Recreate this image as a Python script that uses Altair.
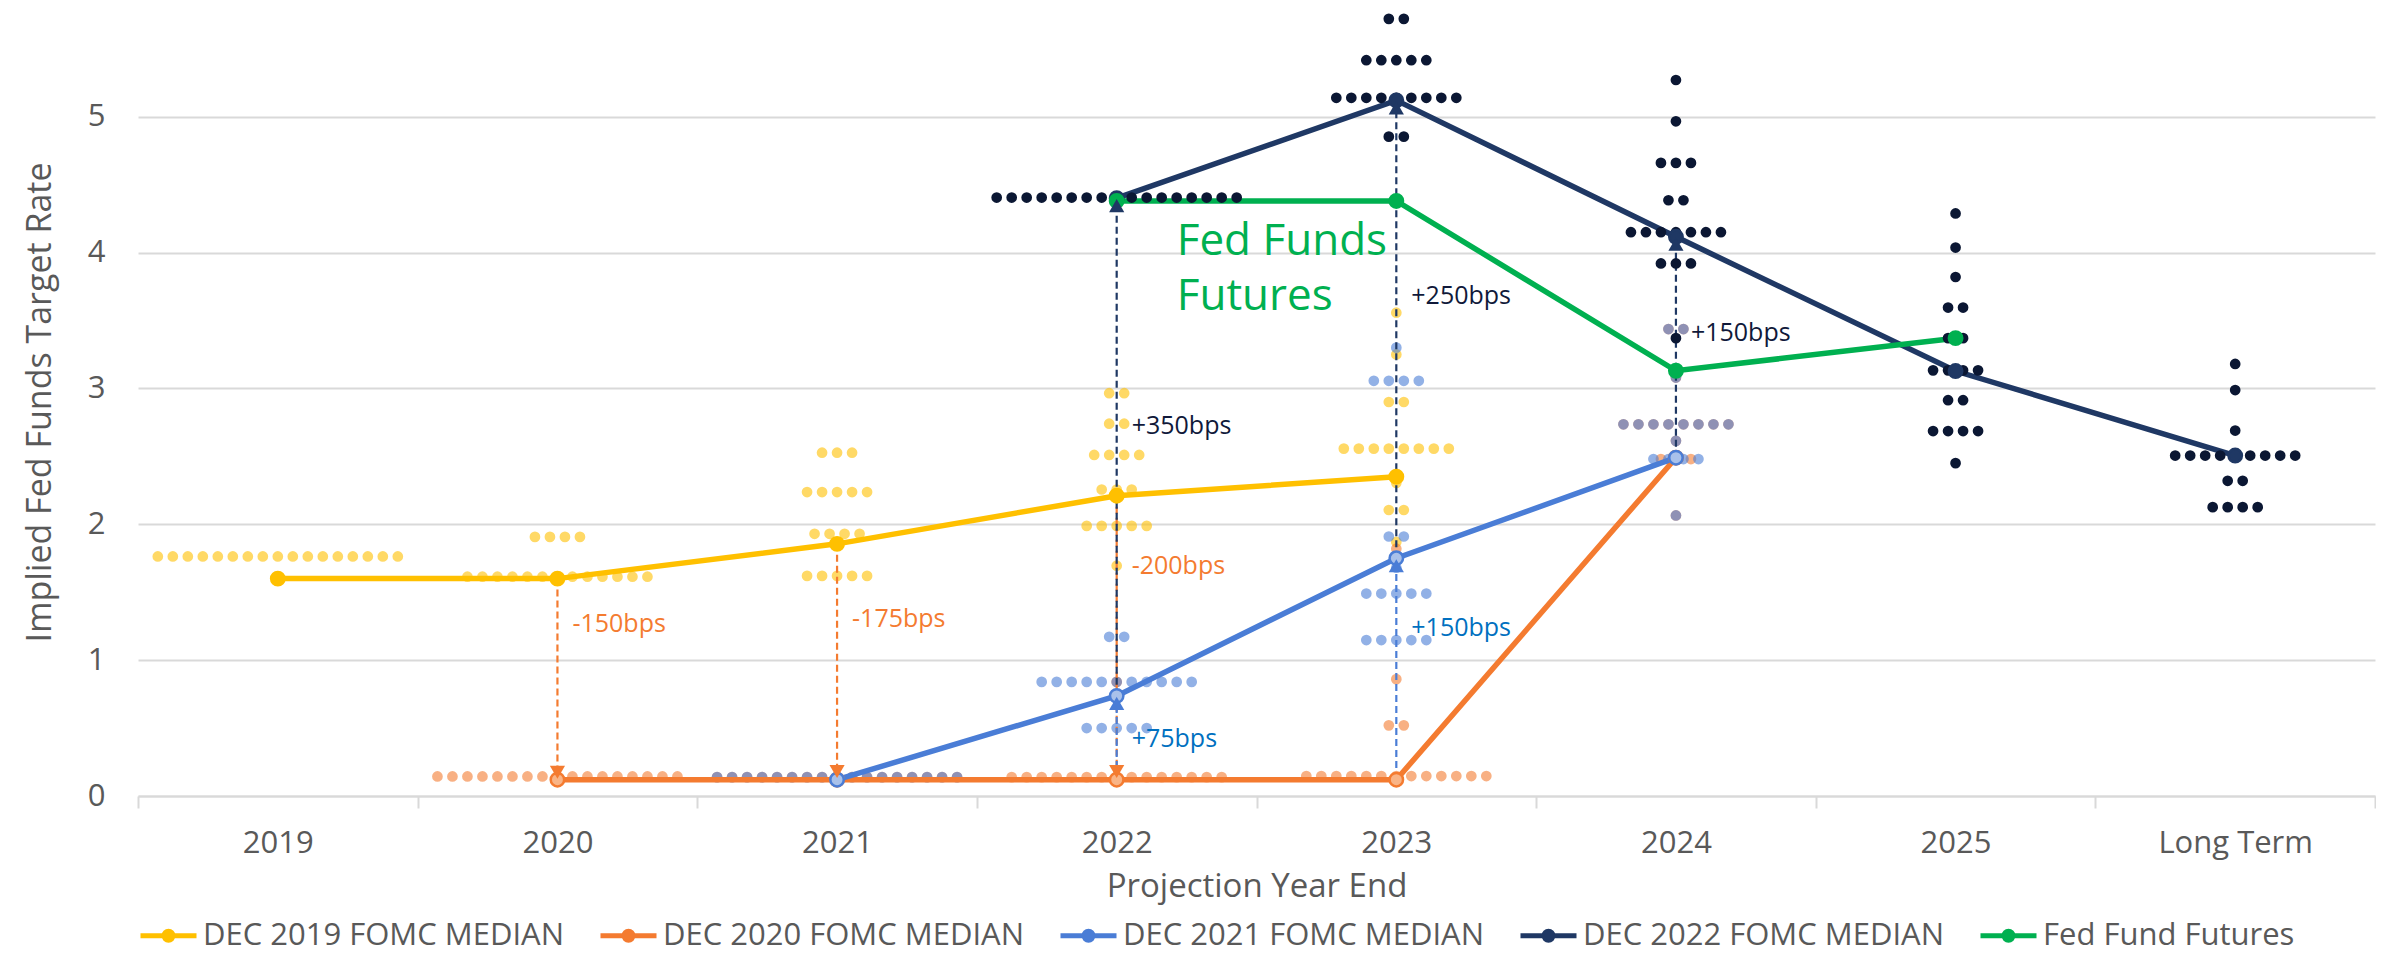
import json
import altair as alt
import pandas as pd

# ---------------- data ----------------
categories = ["2019", "2020", "2021", "2022", "2023", "2024", "2025", "Long Term"]

series_names = [
    "DEC 2019 FOMC MEDIAN",
    "DEC 2020 FOMC MEDIAN",
    "DEC 2021 FOMC MEDIAN",
    "DEC 2022 FOMC MEDIAN",
    "Fed Fund Futures",
]
# short keys for the non-legend colour scale
series_keys = ["DEC 2019", "DEC 2020", "DEC 2021", "DEC 2022", "Futures"]
label_keys = ["DEC 2021 label", "DEC 2022 label"]

# medians (None = no value for that category)
median_2019 = [1.60, 1.60, 1.856, 2.21, 2.35, None, None, None]
median_2020 = [None, 0.12, 0.12, 0.12, 0.12, 2.49, None, None]
median_2021 = [None, None, 0.12, 0.737, 1.75, 2.49, None, None]
median_2022 = [None, None, None, 4.40, 5.12, 4.116, 3.128, 2.506]
futures = [None, None, None, 4.38, 4.38, 3.13, 3.37, None]

# dot-plot rows: (category, value, number of dots)
dec2019_dots = [
    ("2019", 1.763, 17),
    ("2020", 1.907, 4), ("2020", 1.614, 13),
    ("2021", 2.527, 3), ("2021", 2.237, 5), ("2021", 1.930, 4), ("2021", 1.620, 5),
    ("2022", 2.965, 2), ("2022", 2.740, 2), ("2022", 2.510, 4), ("2022", 2.256, 3),
    ("2022", 1.988, 5), ("2022", 1.695, 1),
    ("2023", 3.557, 1), ("2023", 3.250, 1), ("2023", 2.900, 2), ("2023", 2.557, 8),
    ("2023", 2.305, 1), ("2023", 2.105, 2), ("2023", 1.870, 1),
]
dec2020_dots = [
    ("2020", 0.144, 17),
    ("2021", 0.139, 17),
    ("2022", 0.139, 15), ("2022", 0.840, 1),
    ("2023", 0.147, 13), ("2023", 0.520, 2), ("2023", 0.860, 1), ("2023", 1.820, 1),
    ("2024", 3.437, 2), ("2024", 3.080, 1), ("2024", 2.736, 8), ("2024", 2.614, 1),
    ("2024", 2.480, 3), ("2024", 2.065, 1),
]
dec2021_dots = [
    ("2021", 0.139, 17),
    ("2022", 1.172, 2), ("2022", 0.840, 11), ("2022", 0.500, 5), ("2022", 0.139, 1),
    ("2023", 3.300, 1), ("2023", 3.056, 4), ("2023", 1.910, 2), ("2023", 1.680, 1),
    ("2023", 1.490, 5), ("2023", 1.148, 5),
    ("2024", 3.437, 2), ("2024", 3.080, 1), ("2024", 2.736, 8), ("2024", 2.614, 1),
    ("2024", 2.480, 4), ("2024", 2.065, 1),
]
dec2022_dots = [
    ("2022", 4.405, 17),
    ("2023", 5.720, 2), ("2023", 5.416, 5), ("2023", 5.139, 9), ("2023", 4.853, 2),
    ("2024", 5.270, 1), ("2024", 4.966, 1), ("2024", 4.660, 3), ("2024", 4.385, 2),
    ("2024", 4.150, 7), ("2024", 3.920, 3), ("2024", 3.370, 1), ("2024", 3.130, 1),
    ("2025", 4.288, 1), ("2025", 4.037, 1), ("2025", 3.820, 1), ("2025", 3.595, 2),
    ("2025", 3.370, 2), ("2025", 3.133, 4), ("2025", 2.913, 2), ("2025", 2.686, 4),
    ("2025", 2.450, 1),
    ("Long Term", 3.180, 1), ("Long Term", 2.988, 1), ("Long Term", 2.690, 1),
    ("Long Term", 2.506, 9), ("Long Term", 2.320, 2), ("Long Term", 2.126, 4),
]

# change arrows
arrow_cat = ["2020", "2021", "2022", "2022", "2022", "2023", "2023", "2024"]
arrow_from = [1.60, 1.856, 2.21, 0.125, 0.737, 0.125, 1.75, 2.49]
arrow_to = [0.12, 0.125, 0.125, 0.737, 4.40, 1.75, 5.12, 4.116]
arrow_series = ["DEC 2020", "DEC 2020", "DEC 2020", "DEC 2021",
                "DEC 2022", "DEC 2021", "DEC 2022", "DEC 2022"]

# annotation labels
ann_text = ["-150bps", "-175bps", "-200bps", "+75bps", "+350bps", "+250bps", "+150bps", "+150bps"]
ann_cat = ["2020", "2021", "2022", "2022", "2022", "2023", "2023", "2024"]
ann_y = [1.263, 1.30, 1.69, 0.42, 2.72, 3.68, 1.24, 3.41]
ann_series = ["DEC 2020", "DEC 2020", "DEC 2020", "DEC 2021 label",
              "DEC 2022 label", "DEC 2022 label", "DEC 2021 label", "DEC 2022 label"]

fff_text = ["Fed Funds", "Futures"]
fff_cat = ["2022", "2022"]
fff_y = [4.08, 3.67]

# ---------------- styles ----------------
line_colors = ["#FFC000", "#F47B30", "#4A7DD6", "#1F3864", "#00B050"]
label_colors = ["#0070C0", "#10193A"]
marker_fills = ["#FFC000", "#F9B486", "#A9C1EA", "#1F3864", "#00B050"]
navy_dot = "#0B1733"
grey = "#595959"
grid = "#D9D9D9"
FONT = "Open Sans"

W, H = 2237, 788
DOT_GAP = 15
step = DOT_GAP / (W / len(categories))

# ---------------- tables ----------------
def expand(rows, key):
    out = []
    for cat, val, n in rows:
        ci = categories.index(cat)
        for k in range(n):
            out.append({"key": key, "cat": ci, "k": k - (n - 1) / 2, "y": val})
    return out

light_df = pd.DataFrame(
    expand(dec2019_dots, series_keys[0])
    + expand(dec2020_dots, series_keys[1])
    + expand(dec2021_dots, series_keys[2])
)
navy_df = pd.DataFrame(expand(dec2022_dots, series_keys[3]))

med_rows = []
for s, key, vals in zip(series_names, series_keys,
                        [median_2019, median_2020, median_2021, median_2022, futures]):
    for ci, v in enumerate(vals):
        if v is not None:
            med_rows.append({"series": s, "key": key, "cat": ci, "y": v})
med_df = pd.DataFrame(med_rows)

arrow_df = pd.DataFrame({
    "cat": [categories.index(c) for c in arrow_cat],
    "y": arrow_from, "y2": arrow_to, "key": arrow_series,
})
ann_df = pd.DataFrame({
    "cat": [categories.index(c) for c in ann_cat],
    "y": ann_y, "label": ann_text, "key": ann_series,
})
fff_df = pd.DataFrame({
    "cat": [categories.index(c) for c in fff_cat],
    "y": fff_y, "label": fff_text, "key": series_keys[4],
})

# ---------------- scales / axes ----------------
xs = alt.Scale(domain=[0, len(categories)], nice=False, zero=False)
ys = alt.Scale(domain=[0, 5.8], nice=False, zero=False)
stroke_scale = alt.Scale(domain=series_names, range=line_colors)
fill_scale = alt.Scale(domain=series_keys, range=marker_fills)
color_scale = alt.Scale(domain=series_keys + label_keys, range=line_colors + label_colors)

label_expr = ("(datum.value % 1) == 0.5 ? " + json.dumps(categories)
              + "[floor(datum.value)] : ''")

x_axis = alt.Axis(
    values=[i / 2 for i in range(2 * len(categories) + 1)],
    labelExpr=label_expr,
    grid=False,
    domain=True, domainColor=grid, domainWidth=2,
    ticks=True, tickSize=12, tickWidth=2, tickColor=grid,
    tickOpacity={"condition": {"test": "(datum.value % 1) == 0", "value": 1}, "value": 0},
    labelFontSize=31, labelColor=grey, labelFont=FONT, labelPadding=20,
    labelOverlap=False, labelFlush=False, labelBound=False,
    title="Projection Year End", titleFontSize=33, titleFontWeight="normal",
    titleColor=grey, titleFont=FONT, titlePadding=12,
)
y_axis = alt.Axis(
    values=[0, 1, 2, 3, 4, 5], format="d",
    grid=True, gridColor=grid, gridWidth=2,
    domain=False, ticks=False,
    labelFontSize=31, labelColor=grey, labelFont=FONT, labelPadding=33,
    title="Implied Fed Funds Target Rate", titleFontSize=34, titleFontWeight="normal",
    titleColor=grey, titleFont=FONT, titlePadding=30,
)

legend_symbol = ("M-1,0H3"
                 "M1.32,0A0.32,0.32,0,1,1,0.68,0A0.32,0.32,0,1,1,1.32,0"
                 "M1.1,0A0.1,0.1,0,1,1,0.9,0A0.1,0.1,0,1,1,1.1,0")
legend = alt.Legend(
    title=None, orient="bottom", direction="horizontal",
    symbolType=legend_symbol, symbolSize=784, symbolStrokeWidth=5,
    labelFontSize=31, labelColor=grey, labelFont=FONT, labelLimit=1000,
    labelOffset=32, columnPadding=25, offset=16, padding=0,
)

center = "datum.cat + 0.5"
dot_x = f"datum.cat + 0.5 + datum.k * {step}"

def X():
    return alt.X("x:Q", scale=xs)

def Y(f="y"):
    return alt.Y(f"{f}:Q", scale=ys)

# ---------------- layers ----------------
dots_light = alt.Chart(light_df).transform_calculate(x=dot_x).mark_circle(
    size=115, opacity=0.6
).encode(
    x=alt.X("x:Q", scale=xs, axis=x_axis),
    y=alt.Y("y:Q", scale=ys, axis=y_axis),
    color=alt.Color("key:N", scale=color_scale, legend=None),
)

lines = alt.Chart(med_df).transform_calculate(x=center).mark_line(strokeWidth=5.5).encode(
    x=X(), y=Y(),
    stroke=alt.Stroke("series:N", scale=stroke_scale, legend=legend),
    order="cat:Q",
)

arrows = alt.Chart(arrow_df).transform_calculate(x=center).mark_rule(
    strokeDash=[7, 4], strokeWidth=2.2
).encode(
    x=X(), y=Y(), y2="y2:Q",
    color=alt.Color("key:N", scale=color_scale, legend=None),
)

dots_navy = alt.Chart(navy_df).transform_calculate(x=dot_x).mark_circle(
    size=115, opacity=1, color=navy_dot
).encode(x=X(), y=Y())

markers = alt.Chart(med_df).transform_calculate(x=center).mark_point(
    size=180, strokeWidth=2.5, opacity=1
).encode(
    x=X(), y=Y(),
    fill=alt.Fill("key:N", scale=fill_scale, legend=None),
    color=alt.Color("key:N", scale=color_scale, legend=None),
)

heads = alt.Chart(arrow_df).transform_calculate(
    x=center,
    hy="datum.y2 - (datum.y2 > datum.y ? 1 : -1) * 0.055",
    dir="datum.y2 > datum.y ? 'up' : 'down'",
).mark_point(filled=True, size=230, opacity=1).encode(
    x=X(), y=Y("hy"),
    color=alt.Color("key:N", scale=color_scale, legend=None),
    shape=alt.Shape("dir:N", scale=alt.Scale(domain=["up", "down"],
                                             range=["triangle-up", "triangle-down"]),
                    legend=None),
)

bps = alt.Chart(ann_df).transform_calculate(x=center).mark_text(
    align="left", baseline="middle", dx=15, fontSize=25, font=FONT
).encode(
    x=X(), y=Y(), text="label:N",
    color=alt.Color("key:N", scale=color_scale, legend=None),
)

fff = alt.Chart(fff_df).transform_calculate(x=center).mark_text(
    align="left", baseline="middle", dx=60, fontSize=44, font=FONT
).encode(
    x=X(), y=Y(), text="label:N",
    color=alt.Color("key:N", scale=color_scale, legend=None),
)

chart = alt.layer(
    dots_light, lines, arrows, dots_navy, markers, heads, bps, fff
).properties(
    width=W, height=H,
    padding={"left": 15, "top": 0, "right": 0, "bottom": 4},
).configure(font=FONT, background="white").configure_view(strokeWidth=0, stroke="transparent")

chart.save("out.html", embed_options={"renderer": "svg", "actions": False})
